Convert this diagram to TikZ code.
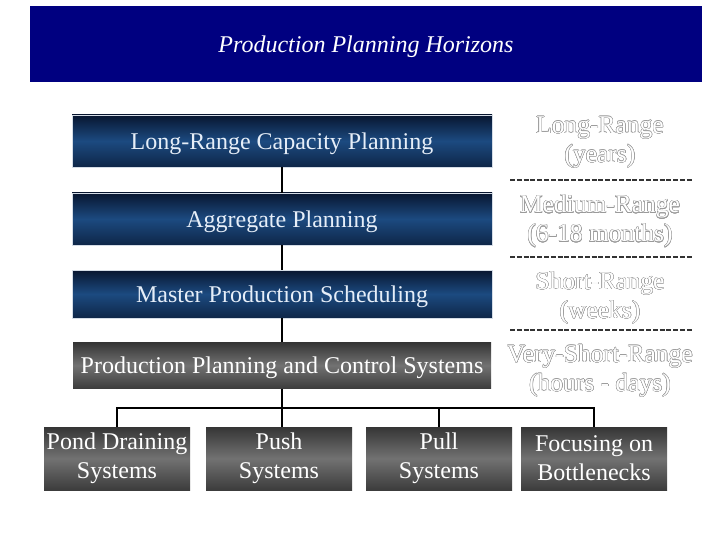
\documentclass[tikz,border=0pt]{standalone}
\usepackage{fontspec}
\setmainfont{Liberation Serif}
\usepackage[copies]{contour}
\usetikzlibrary{positioning,calc}
\definecolor{navyband}{HTML}{000080}
\definecolor{stagetop}{HTML}{081630}
\definecolor{stagemid}{HTML}{1C4A80}
\definecolor{stagebot}{HTML}{0E2648}
\definecolor{stageedge}{HTML}{D4DCE6}
\definecolor{stagetext}{HTML}{E6EEF8}
\definecolor{systop}{HTML}{353535}
\definecolor{sysmid}{HTML}{727272}
\definecolor{sysbot}{HTML}{3C3C3C}
\definecolor{rangeedge}{HTML}{9A9A9A}
\contourlength{0.4pt}
\newcommand{\rangetext}[1]{\contour{rangeedge}{#1}}
\tikzstyle{titlebar} = [rectangle, fill=navyband, minimum width=672pt, minimum height=76pt,
    text=white, text depth=0pt, font=\fontsize{24}{28}\selectfont\itshape]
\tikzstyle{stage} = [draw=stageedge, line width=0.8pt, rectangle, minimum width=420pt,
    minimum height=52pt, top color=stagetop, bottom color=stagebot, middle color=stagemid,
    text=stagetext, text depth=0pt, font=\fontsize{24}{28}\selectfont]
\tikzstyle{sysbox} = [rectangle, minimum width=146pt, minimum height=63pt, align=center,
    inner sep=2pt, top color=systop, bottom color=sysbot, middle color=sysmid,
    text=white, font=\fontsize{24}{29}\selectfont]
\tikzstyle{horizon} = [align=center, text=white, font=\fontsize{25.5}{29}\selectfont]
\tikzstyle{link} = [draw, line width=2.5pt, black]
\tikzstyle{rangesep} = [draw, line width=2pt, dash pattern=on 5pt off 1.8pt, black!80]

\begin{document}
\begin{tikzpicture}[x=1pt, y=1pt]
    \useasboundingbox (0,0) rectangle (720,-540);
    \node [titlebar] (title) at (366,-44) {Production Planning Horizons};

    % planning levels
    \node [stage] (lrcp) at (282,-141) {Long-Range Capacity Planning};
    \node [stage, below of=lrcp, node distance=78pt] (agg) {Aggregate Planning};
    \node [stage, below of=agg, node distance=75pt, minimum height=48pt] (mps) {Master Production Scheduling};
    \node [sysbox, below of=mps, node distance=71.5pt, minimum width=418pt,
        minimum height=46pt, text depth=0pt] (ppcs) {Production Planning and Control Systems};

    \draw [link] (lrcp) -- (agg);
    \draw [link] (agg) -- (mps);
    \draw [link] (mps) -- (ppcs);

    % horizons
    \node [horizon, right of=lrcp, node distance=318pt, yshift=-1.5pt] (lr)
        {\rangetext{Long-Range}\\\rangetext{(years)}};
    \node [horizon, right of=agg, node distance=318pt, yshift=-2.5pt] (mr)
        {\rangetext{Medium-Range}\\\rangetext{(6-18 months)}};
    \node [horizon, right of=mps, node distance=318pt, yshift=-4pt] (sr)
        {\rangetext{Short-Range}\\\rangetext{(weeks)}};
    \node [horizon, right of=ppcs, node distance=318pt, yshift=-5.5pt] (vsr)
        {\rangetext{Very-Short-Range}\\\rangetext{(hours - days)}};

    \draw [rangesep] ($(lrcp)!0.5!(agg)$) ++(318,0) coordinate (sep1) ++(-90,0) -- ++(182,0);
    \draw [rangesep] ($(agg)!0.5!(mps)$) ++(318,0) coordinate (sep2) ++(-90,0) -- ++(182,0);
    \draw [rangesep] ($(mps)!0.5!(ppcs)$) ++(318,0) coordinate (sep3) ++(-90,0) -- ++(182,0);

    % systems
    \node [sysbox] (pond) at (117,-458.5) {Pond Draining\\Systems};
    \node [sysbox, right of=pond, node distance=162pt] (push) {Push\\Systems};
    \node [sysbox, right of=push, node distance=160pt] (pull) {Pull\\Systems};
    \node [sysbox, right of=pull, node distance=155pt] (focus) {Focusing on\\Bottlenecks};

    \coordinate [below of=ppcs, node distance=42.5pt] (bus);
    \draw [link] (ppcs) -- (bus);
    \draw [link] (pond.north) |- (bus) -| (focus.north);
    \draw [link] (bus) -- (bus |- push.north);
    \draw [link] (pull.north) |- (bus);
\end{tikzpicture}
\end{document}
